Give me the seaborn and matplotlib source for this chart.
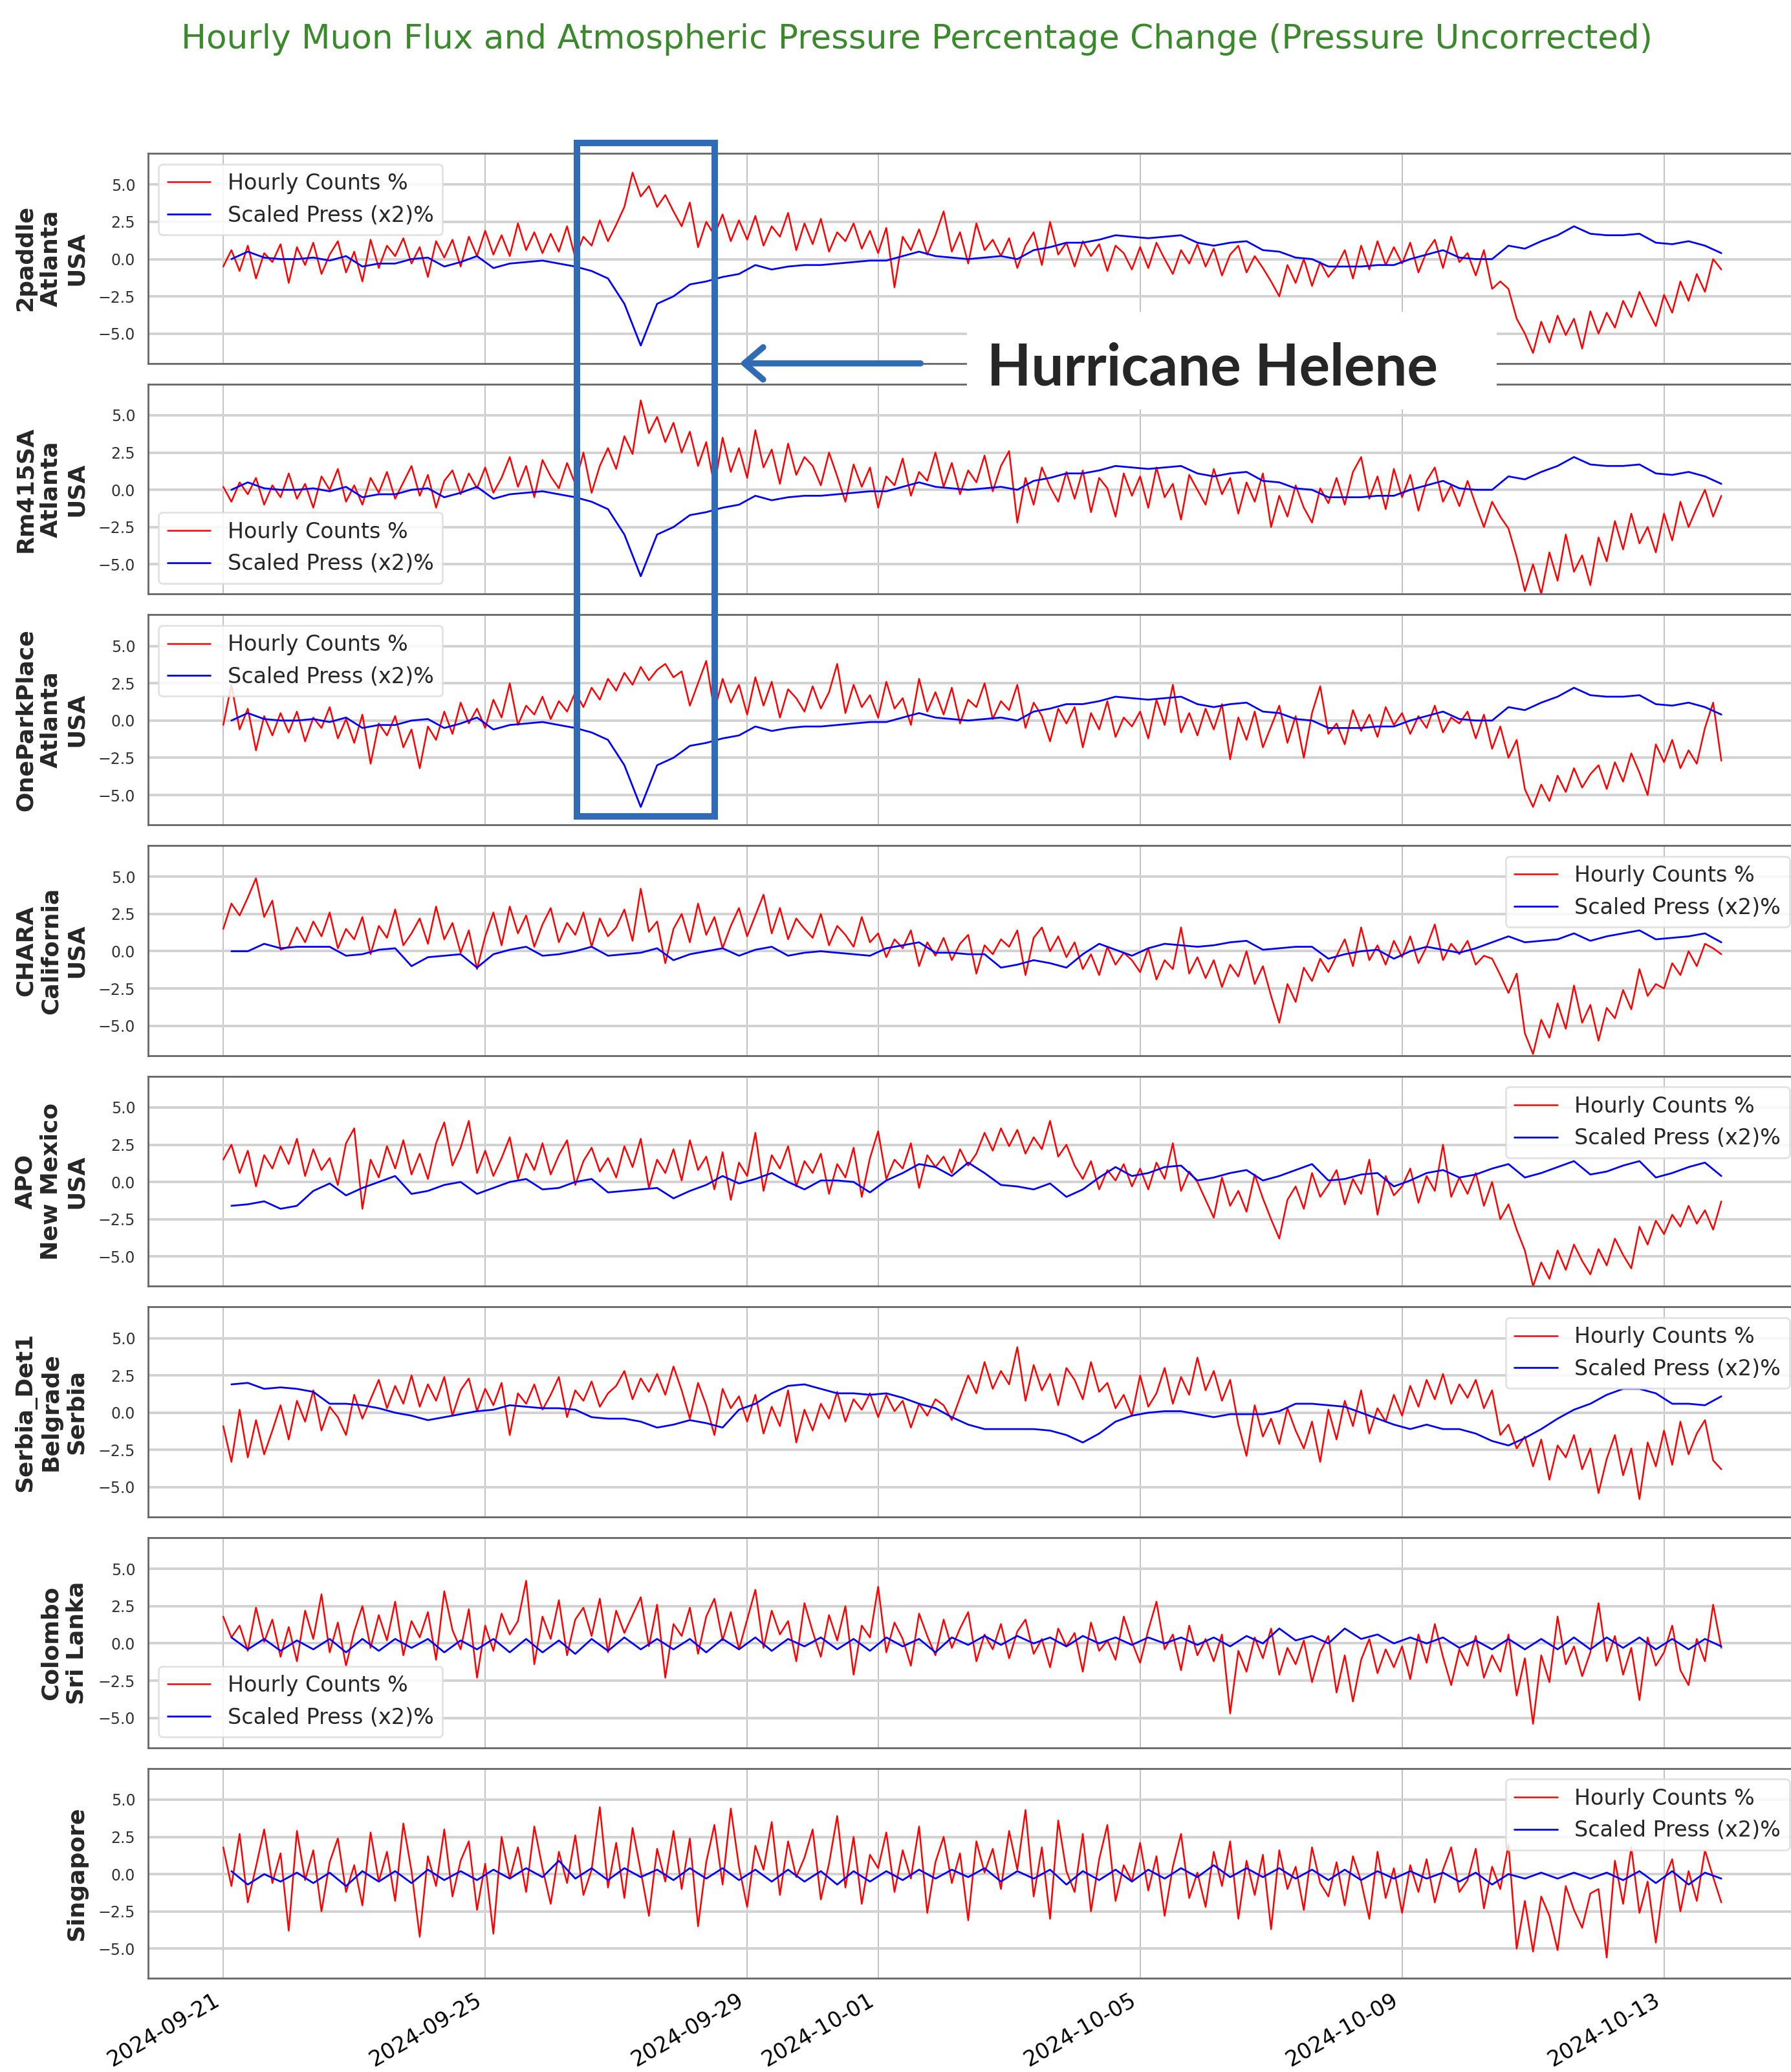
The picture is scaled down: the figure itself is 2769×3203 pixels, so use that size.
import numpy as np
import pandas as pd
import matplotlib
matplotlib.use("Agg")
import matplotlib.pyplot as plt
import matplotlib.dates as mdates
from matplotlib.patches import Rectangle, FancyArrowPatch
import seaborn as sns

# Valores: contagens a cada 3 h, pressao escalada a cada 6 h (em %)
counts_2paddle = [
    -0.5, 0.6, -0.8, 0.9, -1.3, 0.4, -0.2, 1.0,
    -1.6, 0.8, -0.4, 1.1, -1.0, 0.3, 1.2, -0.9,
    0.5, -1.5, 1.3, -0.6, 0.9, 0.2, 1.4, -0.3,
    0.8, -1.2, 1.2, 0.1, 1.3, -0.5, 1.5, 0.2,
    1.9, 0.3, 1.6, 0.2, 2.4, 0.6, 1.8, 0.4,
    1.7, 0.5, 2.2, 0.1, 1.5, 0.9, 2.6, 1.2,
    2.3, 3.5, 5.8, 4.2, 4.9, 3.5, 4.3, 3.2,
    2.2, 3.8, 0.8, 2.5, 1.6, 3.0, 1.2, 2.6,
    1.3, 2.9, 0.9, 2.2, 1.5, 3.1, 0.6, 2.4,
    1.0, 2.7, 0.5, 1.8, 1.2, 2.4, 0.7, 1.9,
    0.4, 2.1, -1.9, 1.5, 0.6, 2.0, 0.3, 1.6,
    3.2, 0.5, 1.8, -0.3, 2.4, 0.6, 1.3, 0.2,
    1.4, -0.6, 0.9, 1.8, -0.4, 2.5, 0.3, 1.1,
    -0.5, 1.2, 0.2, 1.0, -0.8, 0.9, 0.4, -0.7,
    0.8, -0.6, 1.1, 0.0, -1.0, 0.6, -0.3, 1.0,
    -0.5, 0.7, -1.1, 0.3, 0.9, -0.9, 0.2, -0.6,
    -1.5, -2.5, -0.4, -1.6, 0.0, -1.8, -0.2, -1.2,
    -0.5, 0.6, -1.3, 0.9, -0.7, 1.2, -0.4, 0.8,
    -0.3, 1.1, -0.9, 0.5, 1.3, -0.6, 1.5, -0.2,
    0.4, -1.1, 0.6, -2.0, -1.5, -2.0, -4.0, -5.0,
    -6.3, -4.2, -5.6, -3.8, -5.1, -4.0, -6.0, -3.5,
    -5.0, -3.6, -4.6, -2.8, -3.9, -2.2, -3.4, -4.5,
    -2.4, -3.6, -1.5, -2.8, -1.0, -2.2, 0.0, -0.7,
]
counts_rm415sa = [
    0.2, -0.8, 0.5, -0.3, 0.8, -1.0, 0.3, -0.5,
    1.1, -0.6, 0.4, -1.2, 0.9, 0.0, 1.4, -0.8,
    0.3, -1.0, 0.8, -0.2, 1.2, -0.6, 0.5, 1.6,
    -0.4, 1.0, -1.2, 0.6, 1.3, -0.3, 1.1, 0.1,
    1.5, -0.2, 0.8, 2.2, 0.2, 1.6, -0.5, 2.0,
    0.9, 0.1, 1.8, 0.4, 2.5, -0.2, 1.6, 2.8,
    1.4, 3.6, 2.4, 6.0, 3.8, 4.9, 3.2, 4.5,
    2.5, 3.9, 1.6, 3.2, 0.2, 3.5, 1.2, 2.8,
    0.8, 4.0, 1.5, 2.7, 0.4, 3.1, 1.0, 2.2,
    1.6, 0.3, 2.5, 0.9, -0.8, 1.7, 0.2, 1.5,
    -1.2, 0.9, 0.3, 2.1, -0.4, 1.2, 0.6, 2.5,
    0.2, 1.8, -0.3, 1.3, 0.5, 2.3, -0.1, 1.6,
    2.6, -2.2, 0.8, -1.0, 1.5, 0.2, -0.8, 1.2,
    -0.6, 1.3, -1.5, 0.8, 0.1, -1.8, 1.1, -0.4,
    0.9, -1.2, 1.5, -0.5, 0.4, -2.0, 1.0, 0.0,
    -1.0, 1.4, -0.3, 0.8, -1.6, 0.5, -0.8, 1.1,
    -2.5, -0.4, -1.8, 0.3, -1.2, -2.2, 0.1, -0.9,
    0.8, -1.0, 1.2, 2.2, -0.6, 0.9, -1.3, 1.4,
    -0.5, 1.0, -1.4, 0.6, 1.5, -0.8, 0.3, -1.1,
    0.6, -1.0, -2.5, -0.8, -1.8, -2.6, -4.5, -6.8,
    -5.0, -7.0, -4.2, -6.1, -3.0, -5.5, -4.4, -6.4,
    -3.2, -4.8, -2.1, -4.0, -1.6, -3.6, -2.5, -4.2,
    -1.6, -3.4, -0.8, -2.5, -1.2, 0.0, -1.8, -0.4,
]
counts_oneparkplace = [
    -0.3, 2.4, -0.6, 0.8, -2.0, 0.3, -1.0, 0.5,
    -0.8, 0.6, -1.4, 0.2, -0.5, 0.9, -1.2, 0.1,
    -1.5, 0.4, -2.9, -0.2, -1.0, 0.3, -1.8, -0.6,
    -3.2, -0.4, -1.3, 0.6, -0.9, 1.2, -0.2, 0.8,
    -0.5, 1.4, 0.2, 2.5, -0.3, 1.0, 0.4, 1.6,
    0.1, 1.3, 0.6, 1.9, 0.9, 2.2, 1.4, 2.8,
    2.0, 3.2, 2.4, 3.6, 2.7, 3.4, 3.8, 2.9,
    3.3, 1.0, 2.5, 4.0, 0.6, 2.8, 1.2, 2.4,
    0.4, 2.9, 1.0, 2.6, 0.2, 2.1, 1.5, 0.6,
    2.3, 0.8, 1.9, 3.8, 0.5, 2.4, 0.9, 1.7,
    0.2, 2.6, 0.8, 1.5, -0.3, 2.8, 0.6, 1.9,
    0.4, 2.2, -0.2, 1.4, 0.9, 2.5, 0.1, 1.3,
    0.7, 2.4, -0.5, 1.2, 0.3, -1.4, 0.8, -0.2,
    0.9, -1.8, 0.5, -0.6, 1.3, -1.1, 0.2, -0.4,
    0.6, -1.2, 1.4, -0.3, 2.4, -0.8, 0.5, -1.0,
    0.8, -0.6, 1.1, -2.6, 0.2, -1.3, 0.6, -1.8,
    -0.4, 1.0, -1.5, 0.3, -2.5, 0.5, 2.3, -0.9,
    -0.2, -1.6, 0.7, -0.7, 0.4, -1.1, 0.9, -0.3,
    0.5, -0.9, 0.3, -0.5, 1.0, -0.8, 0.2, -0.2,
    0.6, -1.2, 0.4, -1.9, -0.4, -2.5, -1.3, -4.6,
    -5.8, -4.3, -5.4, -3.7, -4.8, -3.2, -4.5, -3.6,
    -3.0, -4.6, -2.8, -4.1, -2.2, -3.5, -5.0, -1.6,
    -2.8, -1.3, -3.2, -2.0, -2.9, -0.5, 1.2, -2.7,
]
counts_chara = [
    1.5, 3.2, 2.4, 3.6, 4.9, 2.3, 3.4, 0.1,
    0.3, 1.6, 0.6, 2.0, 1.0, 2.6, 0.2, 1.5,
    0.8, 2.3, -0.2, 1.7, 0.9, 2.8, 0.4, 1.2,
    2.2, 0.5, 3.0, 0.8, 1.9, -0.1, 1.4, -1.2,
    1.0, 2.6, 0.4, 3.0, 1.2, 2.4, 0.3, 1.8,
    2.9, 0.6, 1.9, 1.1, 2.6, 0.3, 2.2, 1.0,
    1.6, 2.8, 0.7, 4.2, 1.3, 2.0, -0.8, 1.5,
    2.5, 0.6, 3.2, 1.1, 2.3, 0.2, 1.7, 2.9,
    1.0, 2.4, 3.8, 1.2, 2.9, 0.8, 2.2, 1.5,
    0.9, 2.5, 0.4, 1.7, 1.1, 0.3, 2.3, 0.6,
    1.2, -0.4, 0.8, 0.2, 1.4, -1.0, 0.6, -0.3,
    0.9, -0.6, 0.5, 1.1, -1.5, 0.4, -0.2, 0.8,
    0.3, 1.4, -1.6, 0.9, 1.6, 0.0, 1.0, -0.4,
    0.6, -1.2, -0.2, -1.6, 0.3, -0.9, -0.1, -0.6,
    -1.4, 0.2, -1.9, -0.6, -1.2, 1.6, -1.5, -0.4,
    -1.8, -0.6, -2.4, -0.9, -1.7, 0.0, -2.2, -1.0,
    -3.0, -4.8, -2.2, -3.4, -1.1, -2.0, -0.5, -1.4,
    -0.3, 0.8, -1.0, 1.6, -0.6, 0.4, -0.9, 0.7,
    -0.4, 1.0, -0.8, 0.3, 1.8, -0.6, 0.5, -0.2,
    0.7, -0.9, -0.3, -0.5, -1.6, -2.8, -1.5, -5.5,
    -6.9, -4.6, -5.8, -3.5, -5.2, -2.3, -4.8, -3.6,
    -6.0, -3.8, -4.5, -2.6, -3.9, -1.2, -3.0, -2.2,
    -2.5, -0.8, -1.6, 0.0, -1.0, 0.5, 0.2, -0.2,
]
counts_apo = [
    1.5, 2.5, 0.6, 2.1, -0.3, 1.8, 0.9, 2.4,
    1.2, 2.9, 0.4, 2.2, 0.8, 1.6, -0.2, 2.6,
    3.6, -1.8, 1.5, 0.3, 2.4, 0.9, 2.8, 0.5,
    1.9, 0.2, 2.6, 4.0, 1.1, 2.3, 4.1, 0.6,
    2.1, 0.4, 1.6, 3.0, 0.2, 1.9, 0.8, 2.6,
    0.5, 1.8, 2.8, -0.2, 1.4, 2.3, 0.7, 1.6,
    0.3, 2.4, 1.0, 2.9, -0.4, 1.5, 0.6, 2.2,
    0.1, 2.8, 0.8, 1.7, -0.5, 2.0, -1.2, 1.3,
    0.4, 3.3, -0.6, 1.8, 0.9, 2.4, -0.3, 1.4,
    0.6, 1.9, -0.8, 1.2, 0.3, 2.3, -1.0, 1.6,
    3.4, 0.2, 1.5, 0.9, 2.6, -0.4, 1.8, 1.0,
    1.7, 0.6, 2.2, 1.1, 1.9, 3.3, 2.1, 3.6,
    2.4, 3.5, 1.9, 3.0, 2.2, 4.1, 1.7, 2.5,
    1.1, 0.2, 1.4, -0.5, 0.8, 0.1, 1.2, -0.3,
    0.9, -0.5, 1.3, 0.2, 2.6, -0.6, 0.7, 0.0,
    -1.2, -2.4, 0.3, -1.6, -0.6, -2.0, 0.5, -1.1,
    -2.5, -3.8, -1.2, -0.3, -1.8, 0.6, -1.0, -0.2,
    0.8, -1.5, 0.2, -0.8, 1.5, -2.2, 0.4, -0.9,
    -0.3, 0.9, -1.4, 0.4, -0.6, 2.5, -1.0, 0.3,
    -0.8, 0.6, -1.6, 0.0, -2.5, -1.5, -3.2, -4.6,
    -7.0, -5.4, -6.5, -4.6, -5.9, -4.2, -5.3, -6.2,
    -4.5, -5.6, -3.8, -4.9, -5.8, -3.0, -4.2, -2.6,
    -3.5, -2.2, -3.0, -1.6, -2.8, -1.9, -3.2, -1.3,
]
counts_belgrade = [
    -0.9, -3.3, 0.2, -3.0, -0.5, -2.8, -1.2, 0.5,
    -1.8, 0.8, -0.6, 1.5, -1.2, 0.4, -0.3, -1.5,
    1.2, -0.4, 0.9, 2.2, 0.3, 1.8, 0.6, 2.5,
    0.4, 1.9, 0.8, 2.4, -0.2, 1.5, 2.3, 0.1,
    1.6, 0.5, 2.0, -1.5, 1.3, 0.6, 1.9, 0.2,
    1.2, 2.4, -0.3, 1.5, 0.8, 2.1, 0.4, 1.3,
    1.8, 2.8, 0.9, 2.3, 1.4, 2.6, 1.2, 3.1,
    1.5, -0.4, 2.0, 0.5, -1.5, 1.6, 0.3, 1.1,
    -0.6, 1.2, -1.4, 0.4, -0.9, 1.5, -2.0, 0.2,
    -1.2, 0.6, -0.4, 1.4, -0.6, 0.9, 0.2, 1.3,
    -0.3, 1.2, 0.1, 0.8, -1.0, 0.6, -0.2, 0.9,
    0.5, -0.5, 1.0, 2.5, 1.3, 3.4, 1.6, 2.8,
    1.9, 4.4, 0.8, 3.2, 1.5, 2.6, 0.5, 3.0,
    2.2, 0.9, 3.4, 1.4, 2.0, 0.3, 1.2, -0.2,
    2.5, 0.4, 1.3, 3.0, 0.6, 2.4, 1.2, 3.7,
    1.5, 2.8, 0.8, 2.2, -0.8, -2.9, 0.5, -1.6,
    -0.4, -2.1, 0.3, -1.2, -2.4, -0.6, -3.3, 0.2,
    -1.8, 0.8, -0.9, 1.5, -1.4, 0.3, -0.6, 1.2,
    -0.2, 1.8, 0.4, 2.2, 0.9, 2.6, 0.6, 1.9,
    1.0, 2.2, 0.3, 1.5, -1.5, -0.8, -2.4, -1.6,
    -3.6, -1.8, -4.5, -2.2, -3.0, -1.5, -3.8, -2.4,
    -5.4, -3.1, -1.5, -4.2, -2.4, -5.8, -2.0, -3.6,
    -1.2, -3.5, -0.6, -2.8, -1.4, -0.5, -3.2, -3.8,
]
counts_colombo = [
    1.8, 0.4, 1.2, -0.5, 2.4, 0.1, 1.6, -0.9,
    1.1, -1.2, 2.2, 0.3, 3.3, -0.6, 1.4, -1.5,
    0.8, 2.5, -0.3, 1.9, 0.2, 2.8, -0.8, 1.5,
    0.4, 2.1, -1.1, 3.5, 0.9, -0.4, 2.3, -2.3,
    1.2, -0.5, 2.0, 0.6, 1.5, 4.2, -1.4, 1.8,
    0.3, 2.9, -0.8, 1.6, 2.4, 0.5, 3.0, -0.6,
    2.2, 0.7, 1.9, 3.1, -0.2, 2.6, -2.3, 1.3,
    0.5, 2.4, -0.7, 1.8, 3.0, 0.2, 2.1, -0.4,
    1.6, 3.6, -0.3, 2.2, 0.6, 1.5, -1.2, 2.7,
    0.8, -0.9, 1.9, 0.2, 2.5, -2.1, 1.2, 0.4,
    3.8, -0.6, 1.4, 0.3, -1.5, 2.0, 0.5, -0.8,
    1.6, -0.3, 1.0, 2.1, -1.2, 0.6, -0.4, 1.3,
    -1.0, 0.8, 1.6, -0.7, 0.3, -1.6, 1.0, -0.2,
    0.7, -1.9, 1.4, -0.5, 0.2, -1.1, 1.8, 0.1,
    -1.3, 0.9, 2.8, -0.4, 0.6, -1.8, 1.2, -0.8,
    0.3, -1.2, 0.6, -4.7, -0.5, -1.9, 0.4, -1.0,
    1.0, -2.1, -0.3, -1.4, 0.2, -2.6, -0.6, 0.5,
    -3.3, -0.8, -3.9, -1.1, 0.3, -2.0, -0.4, -1.6,
    -0.2, -2.4, 0.6, -1.3, 1.3, -0.9, -2.8, -0.4,
    -1.5, 0.5, -2.3, -0.8, -1.9, 0.6, -3.5, -1.0,
    -5.4, -0.8, -2.6, 1.8, -1.4, -0.2, -2.2, -0.6,
    2.7, -1.2, 0.5, -2.1, -0.3, -3.8, 0.4, -1.5,
    -0.6, 1.2, -1.8, -2.8, 0.3, -1.2, 2.6, -0.3,
]
counts_singapore = [
    1.8, -0.8, 2.7, -1.9, 0.5, 3.0, -0.6, 1.4,
    -3.8, 2.9, -0.4, 1.6, -2.5, 0.8, 2.4, -1.2,
    0.6, -2.1, 2.8, -0.5, 1.5, -1.8, 3.4, 0.2,
    -4.2, 1.2, -0.8, 3.0, -1.5, 0.9, 2.2, -2.4,
    0.7, -4.0, 2.5, -0.3, 1.8, -1.2, 3.2, 0.4,
    -2.0, 1.5, -0.6, 2.6, -1.4, 0.3, 4.5, -0.9,
    2.1, -1.6, 3.1, 0.2, -2.8, 1.7, -0.5, 2.9,
    -1.0, 2.4, -3.5, 0.8, 3.3, -0.7, 4.4, 0.5,
    -2.2, 1.9, 0.3, 3.5, -1.4, 2.2, -0.2, 1.1,
    3.0, -1.7, 0.7, 3.9, -0.9, 2.5, -2.0, 1.3,
    0.4, 2.8, -1.2, 1.6, -0.3, 3.2, -2.6, 0.8,
    2.5, -0.6, 1.4, -3.1, 2.2, 0.1, 1.7, -1.0,
    2.9, 0.3, 4.3, -1.5, 1.8, -3.0, 3.6, 0.2,
    -1.2, 2.7, -2.5, 1.0, 3.3, -1.8, 0.6, -0.5,
    2.1, -1.1, 1.2, -2.8, 0.5, 2.7, -1.6, 0.1,
    -2.2, 1.5, -0.8, 2.2, -3.0, 0.9, -1.4, 1.3,
    -3.7, 1.6, -1.0, 0.5, -2.4, 1.8, -0.6, -1.5,
    0.8, -2.1, 1.2, -0.5, -3.0, 1.5, -1.6, 0.4,
    -2.6, 0.6, -1.2, 1.0, -1.9, 0.3, 1.8, -1.2,
    -0.4, 1.7, -2.3, 0.5, -1.0, 2.0, -5.0, -1.8,
    -5.2, -1.5, -2.8, -5.1, -0.8, -2.4, -3.6, -1.3,
    -1.0, -5.6, 0.9, -2.0, 1.8, -2.6, -0.5, -4.6,
    -0.4, 1.0, -2.5, 0.2, -1.8, 1.6, -0.2, -1.9,
]

press_atlanta = [
    0.0, 0.5, 0.1, 0.0,
    0.0, 0.1, -0.1, 0.2,
    -0.5, -0.3, -0.3, 0.0,
    0.1, -0.5, -0.2, 0.2,
    -0.6, -0.3, -0.2, -0.1,
    -0.3, -0.5, -0.8, -1.3,
    -3.0, -5.8, -3.0, -2.5,
    -1.7, -1.5, -1.2, -1.0,
    -0.4, -0.7, -0.5, -0.4,
    -0.4, -0.3, -0.2, -0.1,
    -0.1, 0.2, 0.5, 0.2,
    0.1, 0.0, 0.1, 0.2,
    0.0, 0.6, 0.8, 1.1,
    1.1, 1.3, 1.6, 1.5,
    1.4, 1.5, 1.6, 1.1,
    0.9, 1.1, 1.2, 0.6,
    0.5, 0.1, 0.0, -0.5,
    -0.5, -0.5, -0.4, -0.4,
    0.0, 0.3, 0.6, 0.1,
    0.0, 0.0, 0.9, 0.7,
    1.2, 1.6, 2.2, 1.7,
    1.6, 1.6, 1.7, 1.1,
    1.0, 1.2, 0.9, 0.4,
]
press_chara = [
    0.0, 0.0, 0.5, 0.2,
    0.3, 0.3, 0.3, -0.3,
    -0.2, 0.1, 0.2, -1.0,
    -0.4, -0.3, -0.2, -1.1,
    -0.2, 0.1, 0.3, -0.3,
    -0.2, 0.0, 0.3, -0.3,
    -0.2, -0.1, 0.2, -0.6,
    -0.2, 0.0, 0.2, -0.3,
    0.1, 0.3, -0.3, -0.1,
    0.0, -0.1, -0.2, -0.3,
    0.2, 0.4, 0.6, -0.1,
    -0.1, -0.2, -0.2, -1.1,
    -0.9, -0.6, -0.8, -1.1,
    -0.2, 0.5, 0.1, -0.3,
    0.2, 0.5, 0.4, 0.3,
    0.4, 0.6, 0.7, 0.1,
    0.2, 0.3, 0.3, -0.5,
    -0.2, 0.0, 0.1, -0.5,
    0.0, 0.3, 0.1, -0.1,
    0.2, 0.6, 1.0, 0.6,
    0.7, 0.8, 1.2, 0.7,
    1.0, 1.2, 1.4, 0.8,
    0.9, 1.0, 1.2, 0.6,
]
press_apo = [
    -1.6, -1.5, -1.3, -1.8,
    -1.6, -0.6, -0.1, -0.9,
    -0.4, 0.0, 0.4, -0.8,
    -0.6, -0.2, 0.0, -0.8,
    -0.4, 0.0, 0.2, -0.5,
    -0.4, 0.0, 0.2, -0.7,
    -0.6, -0.5, -0.4, -1.1,
    -0.6, -0.2, 0.4, -0.1,
    0.2, 0.6, 0.0, -0.5,
    0.1, 0.1, 0.0, -0.7,
    0.1, 0.6, 1.2, 1.0,
    0.4, 1.3, 0.6, -0.2,
    -0.3, -0.5, -0.1, -1.0,
    -0.5, 0.3, 1.0, 0.4,
    0.6, 1.0, 1.1, 0.1,
    0.3, 0.6, 0.8, 0.1,
    0.4, 0.8, 1.2, 0.1,
    0.2, 0.5, 0.6, -0.3,
    0.1, 0.6, 0.8, 0.3,
    0.5, 0.9, 1.2, 0.3,
    0.6, 1.0, 1.4, 0.5,
    0.7, 1.1, 1.4, 0.3,
    0.6, 1.0, 1.3, 0.4,
]
press_belgrade = [
    1.9, 2.0, 1.6, 1.7,
    1.6, 1.4, 0.6, 0.6,
    0.5, 0.3, 0.0, -0.2,
    -0.5, -0.3, -0.1, 0.1,
    0.2, 0.5, 0.4, 0.3,
    0.3, 0.2, -0.3, -0.4,
    -0.4, -0.6, -1.0, -0.8,
    -0.5, -0.7, -1.0, 0.2,
    0.6, 1.3, 1.8, 1.9,
    1.6, 1.3, 1.3, 1.2,
    1.3, 1.0, 0.6, 0.3,
    -0.3, -0.8, -1.1, -1.1,
    -1.1, -1.1, -1.2, -1.5,
    -2.0, -1.4, -0.6, -0.2,
    0.0, 0.1, 0.1, -0.1,
    -0.3, -0.1, -0.1, -0.1,
    0.1, 0.6, 0.6, 0.5,
    0.4, 0.0, -0.4, -0.8,
    -1.1, -0.8, -1.1, -1.1,
    -1.4, -1.9, -2.2, -1.7,
    -1.1, -0.4, 0.2, 0.6,
    1.2, 1.6, 1.6, 1.3,
    0.6, 0.6, 0.5, 1.1,
]
press_colombo = [
    0.4, -0.4, 0.3, -0.5,
    0.2, -0.4, 0.3, -0.6,
    0.3, -0.5, 0.3, -0.3,
    0.3, -0.6, 0.2, -0.4,
    0.3, -0.6, 0.3, -0.6,
    0.2, -0.7, 0.3, -0.5,
    0.4, -0.4, 0.3, -0.4,
    0.3, -0.6, 0.3, -0.4,
    0.4, -0.5, 0.3, -0.2,
    0.4, -0.4, 0.3, -0.5,
    0.4, -0.2, 0.3, -0.6,
    0.4, -0.1, 0.5, -0.1,
    0.5, 0.0, 0.4, -0.2,
    0.5, 0.0, 0.4, -0.1,
    0.4, 0.0, 0.4, -0.1,
    0.4, -0.2, 0.5, 0.0,
    1.0, 0.2, 0.5, 0.0,
    1.0, 0.3, 0.6, 0.0,
    0.4, 0.0, 0.4, -0.3,
    0.2, -0.4, 0.3, -0.4,
    0.3, -0.4, 0.4, -0.4,
    0.4, -0.3, 0.4, -0.4,
    0.3, -0.4, 0.3, -0.2,
]
press_singapore = [
    0.2, -0.7, 0.0, -0.5,
    0.1, -0.6, 0.1, -0.8,
    0.2, -0.5, 0.2, -0.6,
    0.3, -0.4, 0.2, -0.4,
    0.3, -0.3, 0.4, -0.2,
    0.9, -0.3, 0.4, -0.4,
    0.4, -0.2, 0.3, -0.4,
    0.4, -0.3, 0.4, -0.4,
    0.3, -0.5, 0.3, -0.5,
    0.2, -0.7, 0.2, -0.5,
    0.2, -0.4, 0.3, -0.3,
    0.3, -0.2, 0.4, -0.5,
    0.2, -0.3, 0.3, -0.7,
    0.2, -0.4, 0.3, -0.5,
    0.3, -0.3, 0.4, -0.2,
    0.6, -0.2, 0.4, -0.2,
    0.4, -0.3, 0.3, -0.4,
    0.3, -0.4, 0.2, -0.3,
    0.2, -0.3, 0.1, -0.5,
    0.1, -0.7, 0.0, -0.3,
    0.1, -0.3, 0.1, -0.3,
    0.1, -0.4, 0.2, -0.6,
    0.2, -0.7, 0.1, -0.3,
]

stations = ["2paddle\nAtlanta\nUSA", "Rm415SA\nAtlanta\nUSA", "OneParkPlace\nAtlanta\nUSA",
            "CHARA\nCalifornia\nUSA", "APO\nNew Mexico\nUSA", "Serbia_Det1\nBelgrade\nSerbia",
            "Colombo\nSri Lanka", "Singapore"]
counts = [counts_2paddle, counts_rm415sa, counts_oneparkplace, counts_chara,
          counts_apo, counts_belgrade, counts_colombo, counts_singapore]
pressures = [press_atlanta, press_atlanta, press_atlanta, press_chara,
             press_apo, press_belgrade, press_colombo, press_singapore]
legend_locs = ["upper left", "lower left", "upper left", "upper right",
               "upper right", "upper right", "lower left", "upper right"]

t_counts = pd.date_range("2024-09-21 00:00", periods=len(counts_2paddle), freq="3h")
t_press = pd.date_range("2024-09-21 03:00", periods=len(press_atlanta), freq="6h")

sns.set_style("white")
plt.rcParams["font.family"] = ["DejaVu Sans"]

W, H = 1356, 1568  # coordenadas de layout medidas na imagem reduzida
fig = plt.figure(figsize=(2769 / 200, 3203 / 200), dpi=200)

axes = []
for k in range(8):
    bottom = 1 - (275 + 174.6 * k) / H
    ax = fig.add_axes([112 / W, bottom, 1251 / W, 159 / H],
                      sharex=axes[0] if axes else None)
    axes.append(ax)

    sns.lineplot(x=t_counts, y=counts[k], ax=ax, color="red", linewidth=0.9,
                 label="Hourly Counts %")
    sns.lineplot(x=t_press, y=pressures[k], ax=ax, color="blue", linewidth=1.0,
                 label="Scaled Press (x2)%")

    ax.set_ylim(-7.0, 7.1)
    ax.set_yticks([-5, -2.5, 0, 2.5, 5])
    ax.set_axisbelow(True)
    ax.yaxis.grid(True, color="#d2d2d2", linewidth=1.4)
    ax.xaxis.grid(True, color="#b8b8b8", linewidth=0.6)
    for sp in ax.spines.values():
        sp.set_color("#666666")
        sp.set_linewidth(1.0)
    ax.tick_params(axis="y", labelsize=8.5, colors="#333333", length=3.5)
    ax.tick_params(axis="x", length=4, pad=2, colors="#333333", labelbottom=(k == 7))
    ax.set_xlabel("")
    ax.set_ylabel(stations[k], fontsize=13, fontweight="bold", labelpad=6)
    ax.legend(loc=legend_locs[k], fontsize=12, framealpha=0.85, edgecolor="#dddddd")

start = pd.Timestamp("2024-09-21")
axes[0].set_xlim(start - pd.Timedelta(days=1.15), start + pd.Timedelta(days=24.08))
axes[-1].xaxis.set_major_locator(mdates.DayLocator(bymonthday=[1, 5, 9, 13, 17, 21, 25, 29]))
axes[-1].xaxis.set_major_formatter(mdates.DateFormatter("%Y-%m-%d"))
for lbl in axes[-1].get_xticklabels():
    lbl.set_rotation(30)
    lbl.set_ha("right")
    lbl.set_fontsize(12)
    lbl.set_color("black")

fig.text(694 / W, 1 - 30 / H,
         "Hourly Muon Flux and Atmospheric Pressure Percentage Change (Pressure Uncorrected)",
         ha="center", va="center", fontsize=18.6, color="#3a8a2c")

# anotacao do furacao
azul = "#2f6cb5"
fig.add_artist(Rectangle((437 / W, 1 - 618 / H), 104 / W, 510 / H, transform=fig.transFigure,
                         fill=False, edgecolor=azul, linewidth=3.6, zorder=10))
fig.add_artist(Rectangle((732 / W, 1 - 310 / H), 401 / W, 74 / H, transform=fig.transFigure,
                         facecolor="white", edgecolor="none", zorder=9))
fig.add_artist(FancyArrowPatch((697 / W, 1 - 275 / H), (560 / W, 1 - 275 / H),
                               transform=fig.transFigure,
                               arrowstyle="->,head_length=0.35,head_width=0.3",
                               mutation_scale=30, color=azul, linewidth=3.4,
                               shrinkA=0, shrinkB=0, zorder=10))
fig.text(918 / W, 1 - 279 / H, "Hurricane Helene", ha="center", va="center",
         fontsize=32, fontweight="bold", family=["Lato", "DejaVu Sans"], zorder=11)

fig.savefig("out.png", dpi=200)
